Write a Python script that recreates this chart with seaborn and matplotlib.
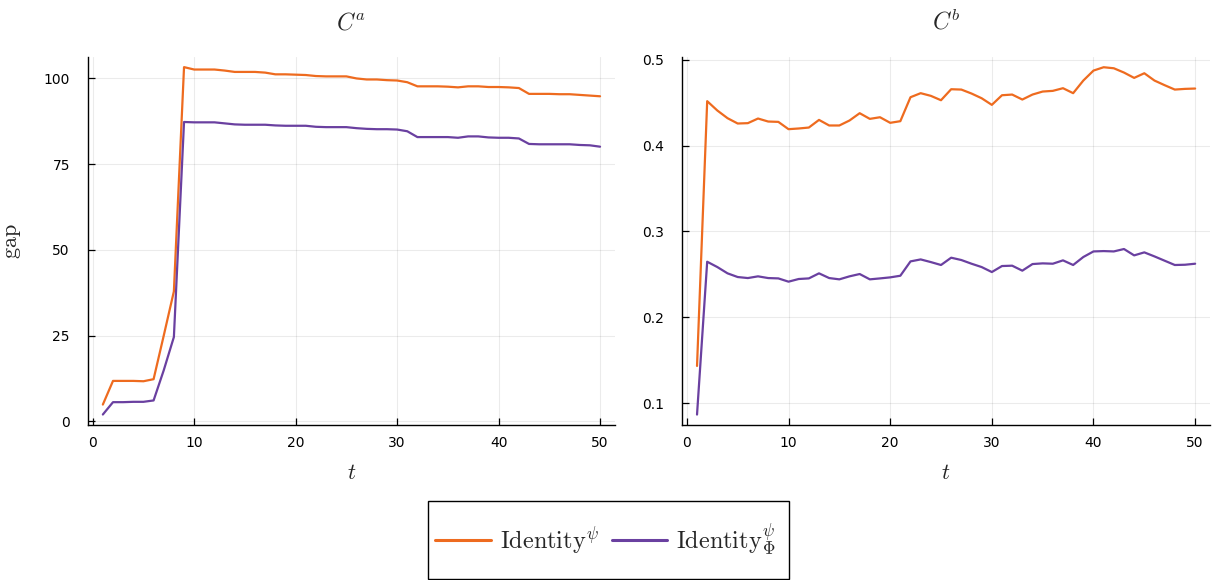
import numpy as np
import pandas as pd
import matplotlib
matplotlib.use("Agg")
import matplotlib.pyplot as plt
from matplotlib.patches import Rectangle
import seaborn as sns

t = list(range(1, 51))

ca_identity = [4.9, 11.8, 11.8, 11.8, 11.7, 12.3, 25.0, 37.9, 103.3, 102.6,
               102.6, 102.6, 102.3, 101.9, 101.9, 101.9, 101.7, 101.2, 101.2, 101.1,
               101.0, 100.7, 100.6, 100.6, 100.6, 100.0, 99.7, 99.7, 99.5, 99.4,
               98.9, 97.7, 97.7, 97.7, 97.6, 97.4, 97.7, 97.7, 97.5, 97.5,
               97.4, 97.2, 95.5, 95.5, 95.5, 95.4, 95.4, 95.2, 95.0, 94.8]
ca_identity_phi = [2.0, 5.6, 5.6, 5.7, 5.7, 6.1, 14.9, 24.6, 87.3, 87.2,
                   87.2, 87.2, 86.9, 86.6, 86.5, 86.5, 86.5, 86.3, 86.2, 86.2,
                   86.2, 85.9, 85.8, 85.8, 85.8, 85.5, 85.3, 85.2, 85.2, 85.1,
                   84.6, 82.9, 82.9, 82.9, 82.9, 82.7, 83.1, 83.1, 82.8, 82.7,
                   82.7, 82.5, 80.9, 80.8, 80.8, 80.8, 80.8, 80.6, 80.5, 80.1]

cb_identity = [0.1434, 0.4516, 0.4407, 0.4318, 0.4256, 0.4260, 0.4314, 0.4279, 0.4275, 0.4190,
               0.4198, 0.4209, 0.4298, 0.4233, 0.4233, 0.4291, 0.4376, 0.4310, 0.4329, 0.4264,
               0.4283, 0.4562, 0.4609, 0.4578, 0.4527, 0.4655, 0.4651, 0.4605, 0.4550, 0.4473,
               0.4585, 0.4593, 0.4535, 0.4593, 0.4628, 0.4636, 0.4667, 0.4609, 0.4756, 0.4872,
               0.4911, 0.4899, 0.4849, 0.4787, 0.4841, 0.4756, 0.4702, 0.4651, 0.4659, 0.4663]
cb_identity_phi = [0.0868, 0.2647, 0.2585, 0.2512, 0.2469, 0.2457, 0.2477, 0.2457, 0.2453, 0.2415,
                   0.2446, 0.2453, 0.2512, 0.2457, 0.2442, 0.2477, 0.2504, 0.2442, 0.2453, 0.2465,
                   0.2484, 0.2651, 0.2674, 0.2643, 0.2609, 0.2694, 0.2667, 0.2624, 0.2585, 0.2527,
                   0.2597, 0.2601, 0.2543, 0.2620, 0.2628, 0.2624, 0.2663, 0.2609, 0.2702, 0.2767,
                   0.2771, 0.2767, 0.2795, 0.2721, 0.2756, 0.2709, 0.2659, 0.2609, 0.2612, 0.2624]

series_labels = [r"$\mathrm{Identity}^{\psi}$", r"$\mathrm{Identity}_{\Phi}^{\psi}$"]
panel_titles = [r"$C^a$", r"$C^b$"]
colors = ["#ee6b1f", "#6a40a0"]

sns.set_style("white")
plt.rcParams["font.family"] = ["DejaVu Sans"]
plt.rcParams["mathtext.fontset"] = "cm"

fig = plt.figure(figsize=(12.18, 5.8), dpi=100)
ax1 = fig.add_axes([0.0722, 0.267, 0.4327, 0.635])
ax2 = fig.add_axes([0.560, 0.267, 0.4335, 0.635])

panels = [(ax1, ca_identity, ca_identity_phi), (ax2, cb_identity, cb_identity_phi)]
for i, (ax, a, b) in enumerate(panels):
    df = pd.DataFrame({
        "t": t + t,
        "gap": a + b,
        "series": [series_labels[0]] * len(t) + [series_labels[1]] * len(t),
    })
    sns.lineplot(data=df, x="t", y="gap", hue="series", palette=colors,
                 linewidth=1.6, ax=ax, legend=(i == 0))
    ax.set_title(panel_titles[i], fontsize=17, pad=20)
    ax.set_xlabel(r"$t$", fontsize=16, labelpad=9)
    ax.grid(True, color="#000000", alpha=0.08, linewidth=0.8)
    for s in ["top", "right"]:
        ax.spines[s].set_visible(False)
    for s in ["left", "bottom"]:
        ax.spines[s].set_color("black")
        ax.spines[s].set_linewidth(1.0)
    ax.tick_params(direction="in", length=5, width=0.9, labelsize=10, colors="black",
                   bottom=True, left=True)
    ax.tick_params(axis="x", pad=8)
    ax.tick_params(axis="y", pad=13)
    ax.set_xlim(-0.47, 51.47)
    ax.set_xticks([0, 10, 20, 30, 40, 50])

ax1.set_ylim(-1.1, 106.3)
ax1.set_yticks([0, 25, 50, 75, 100])
ax1.set_ylabel(r"$\mathrm{gap}$", fontsize=16, labelpad=15)
ax2.set_ylim(0.0745, 0.5032)
ax2.set_yticks([0.1, 0.2, 0.3, 0.4, 0.5])
ax2.set_ylabel("")

handles, labels = ax1.get_legend_handles_labels()
ax1.get_legend().remove()
leg = fig.legend(handles, labels, loc="center", bbox_to_anchor=(0.4971, 0.069),
                 ncol=2, fontsize=17.5, frameon=False,
                 handlelength=2.3, columnspacing=0.53, handletextpad=0.37,
                 borderpad=0.0, borderaxespad=0.0)
for h in leg.get_lines():
    h.set_linewidth(2.2)
fig.add_artist(Rectangle((428 / 1218, 1 / 580), 361 / 1218, 78 / 580,
                         transform=fig.transFigure, fill=False,
                         edgecolor="black", linewidth=1.0))

fig.savefig("out.png", dpi=100)
